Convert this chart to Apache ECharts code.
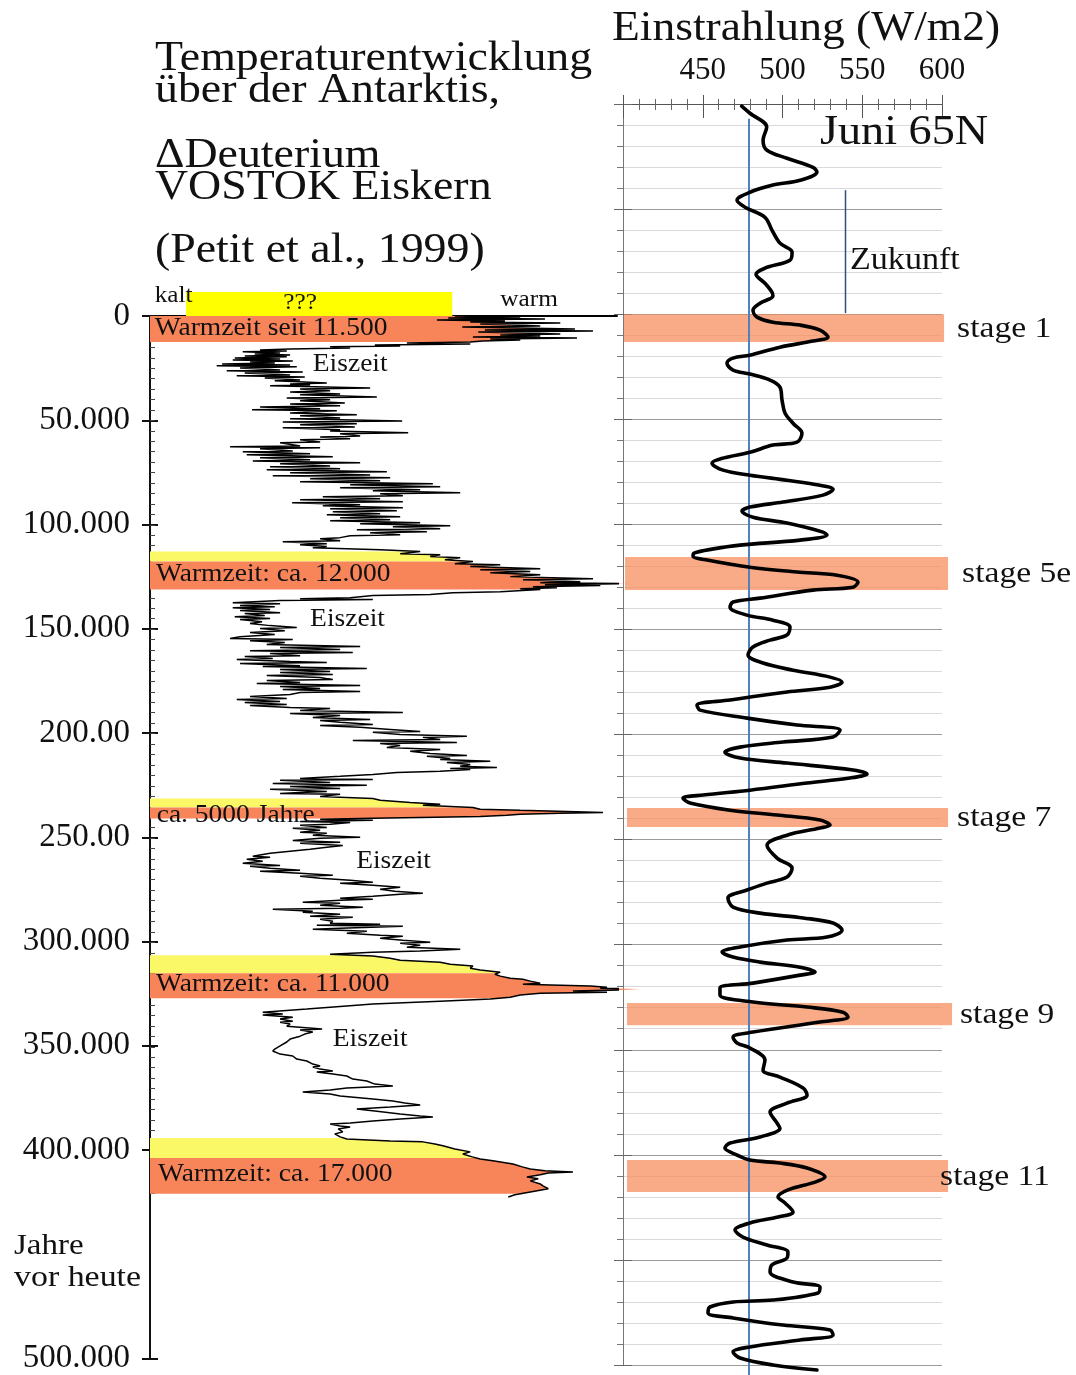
<!DOCTYPE html>
<html>
<head>
<meta charset="utf-8">
<script src="https://cdn.jsdelivr.net/npm/echarts@6/dist/echarts.min.js"></script>
<style>
  html, body { margin: 0; padding: 0; background: #fff; }
  #chart { width: 1076px; height: 1375px; }
</style>
</head>
<body>
<div id="chart"></div>
<script>
// ---------- Vostok deuterium record: age (kyr before present) and deltaD (per mil) ----------
const deutTime = [
  0.0,0.5,1.0,1.4,1.9,2.4,2.9,3.4,3.8,4.8,5.3,6.2,6.7,7.2,7.7,8.6,9.1,9.6,10.1,10.5,11.0,11.5,12.0,12.5,12.9,13.4,13.9,14.4,14.8,15.3,
  15.8,16.3,16.8,17.2,17.7,18.2,18.7,19.2,19.6,20.1,20.6,21.1,21.6,22.0,22.5,23.0,23.5,23.9,24.4,24.9,25.9,26.3,26.8,27.3,28.3,28.7,29.2,29.7,30.7,31.1,
  32.1,32.6,33.1,33.5,34.5,35.0,35.9,36.4,37.4,37.8,38.8,39.3,40.2,40.7,41.7,42.2,43.1,43.6,44.5,45.0,45.5,46.5,47.4,47.9,48.9,49.3,50.3,50.8,51.7,52.2,
  53.2,53.6,54.6,55.1,56.0,56.5,57.5,58.0,58.9,59.4,60.4,60.8,62.3,62.7,63.2,63.7,64.7,65.1,66.1,66.6,67.5,68.0,69.0,69.5,70.4,70.9,71.9,72.3,73.3,73.8,
  74.7,75.2,76.2,76.6,77.6,78.1,79.0,79.5,80.5,80.9,81.9,82.4,83.3,83.8,84.8,85.3,86.2,86.7,87.7,88.1,89.1,89.6,90.5,91.0,92.0,92.4,93.4,93.9,94.8,95.3,
  96.3,96.8,97.7,98.2,99.2,99.6,100.6,101.1,102.0,102.5,103.5,103.9,104.9,105.4,106.3,106.8,107.8,108.3,109.2,109.7,110.6,111.1,112.1,113.0,114.0,114.5,115.4,115.9,116.9,117.8,
  118.8,119.3,120.2,121.2,121.7,122.6,123.1,124.1,125.0,126.0,126.5,127.4,127.9,128.4,128.9,129.3,129.8,130.3,130.8,131.2,132.2,132.7,133.6,134.1,135.1,135.6,136.0,136.5,137.5,138.0,
  138.9,139.4,139.9,140.8,141.3,142.3,142.7,143.7,144.2,145.1,145.6,146.6,147.5,148.5,149.4,149.9,150.9,151.8,152.8,153.8,154.7,155.2,155.7,156.6,157.6,158.5,159.0,160.0,160.5,161.4,
  161.9,162.9,163.3,164.3,164.8,165.7,166.2,166.7,167.7,168.1,169.1,169.6,170.5,171.0,172.0,172.4,173.4,174.4,174.8,175.8,176.3,177.2,177.7,178.7,179.1,180.1,180.6,181.5,182.5,183.5,
  183.9,184.9,185.4,186.3,186.8,187.8,188.2,189.2,190.2,190.6,191.6,192.6,193.5,194.0,194.9,195.9,196.4,197.3,198.3,199.3,199.7,200.7,201.6,202.1,203.1,203.6,204.5,205.0,206.0,206.9,
  207.9,208.8,209.8,210.8,211.2,212.2,212.7,213.6,214.1,215.1,216.0,216.5,217.0,217.5,218.4,218.9,219.9,220.8,221.8,222.3,222.7,223.7,224.2,225.1,225.6,226.6,227.0,228.0,228.5,229.0,
  229.4,230.4,231.4,232.3,233.3,234.2,234.7,235.7,236.6,237.1,237.6,238.1,238.5,239.0,239.5,240.0,240.5,240.9,241.4,241.9,242.4,242.9,243.8,244.3,245.3,245.7,246.7,247.6,248.1,249.1,
  250.0,250.5,251.5,252.4,252.9,253.9,254.8,255.8,256.7,257.7,259.1,259.6,260.6,261.5,262.5,263.5,263.9,264.9,265.8,266.3,267.3,268.2,268.7,269.7,270.6,271.6,272.1,273.0,274.0,274.9,
  275.9,276.9,277.3,278.3,279.3,279.7,280.2,281.2,281.7,282.6,283.6,284.0,284.5,285.5,286.0,286.9,287.9,288.4,289.3,290.3,291.2,291.7,292.2,292.7,293.6,294.1,295.1,296.0,297.0,297.5,
  298.4,299.4,300.3,300.8,301.8,302.7,303.7,304.6,305.1,306.1,307.0,308.0,309.0,309.9,310.9,311.8,312.8,313.7,314.7,315.7,316.6,317.6,318.1,319.0,320.0,320.5,321.0,321.4,321.9,322.4,
  322.8,323.3,323.8,324.3,324.8,325.7,326.7,327.6,328.6,330.0,331.5,332.4,333.9,334.8,335.3,336.3,337.2,338.2,338.7,339.6,340.6,342.0,342.5,343.4,344.4,345.4,346.8,348.2,350.1,351.6,
  352.5,354.0,354.9,356.4,357.3,358.8,359.7,360.2,361.2,362.1,362.6,363.6,364.5,366.0,366.9,368.4,369.3,370.3,371.2,372.2,373.1,374.1,375.5,376.5,377.5,378.4,379.4,380.3,381.3,382.7,
  383.7,384.2,385.1,386.1,387.0,387.5,388.5,389.0,389.9,391.3,392.3,393.7,394.7,395.7,396.1,397.1,398.0,399.5,400.9,401.9,403.3,404.3,405.2,406.7,408.1,409.1,410.0,410.5,411.0,411.9,
  412.9,413.8,414.8,416.3,417.2,418.6,420.1,421.5,422.5
];
const deutValue = [
  -454.3,-444.5,-455.3,-440.8,-457.0,-446.8,-452.0,-438.5,-450.5,-441.5,-453.2,-436.3,-449.8,-433.6,-450.8,-438.5,-447.5,-441.5,-451.6,-436.0,-449.0,-444.5,-450.1,-452.0,-461.5,-452.0,-466.3,-462.5,-473.0,-470.0,
  -479.0,-483.5,-479.5,-486.1,-480.5,-484.3,-479.0,-485.8,-479.5,-487.3,-480.5,-487.6,-478.6,-485.0,-481.3,-489.2,-479.0,-490.0,-478.0,-486.5,-480.5,-488.5,-477.1,-485.8,-479.0,-487.0,-476.8,-482.8,-477.5,-481.3,
  -473.5,-479.0,-476.0,-482.0,-467.0,-477.5,-473.0,-479.0,-471.5,-477.5,-466.0,-479.5,-473.0,-477.5,-470.8,-479.0,-471.5,-483.5,-474.5,-484.7,-472.0,-479.0,-469.0,-477.5,-471.5,-479.0,-462.2,-480.1,-469.0,-477.5,
  -469.3,-480.1,-471.5,-473.0,-461.3,-471.5,-468.5,-474.5,-470.0,-477.5,-474.5,-480.5,-477.5,-488.0,-474.5,-483.5,-478.6,-486.1,-476.0,-485.5,-472.6,-483.5,-476.0,-484.6,-468.5,-480.5,-473.0,-482.0,-471.5,-482.5,
  -464.5,-479.0,-467.0,-481.6,-464.0,-476.0,-465.5,-477.5,-457.6,-470.0,-456.5,-471.5,-459.5,-466.6,-453.5,-465.5,-462.1,-474.1,-465.5,-477.5,-462.1,-478.7,-468.5,-474.1,-462.1,-473.0,-463.0,-472.6,-465.5,-473.5,
  -462.5,-471.5,-464.0,-473.0,-459.5,-468.5,-455.0,-463.6,-456.5,-469.0,-458.5,-467.0,-462.5,-470.0,-471.5,-474.5,-471.5,-480.1,-473.5,-477.5,-473.5,-475.6,-465.5,-459.5,-462.5,-456.5,-458.0,-453.5,-455.8,-451.6,
  -454.3,-447.5,-452.0,-441.5,-450.5,-443.0,-449.0,-441.5,-446.0,-433.6,-444.1,-435.5,-441.5,-428.0,-440.8,-432.5,-442.6,-439.0,-444.5,-441.5,-447.5,-454.6,-458.0,-466.6,-470.0,-477.5,-466.6,-480.5,-487.6,-480.5,
  -486.5,-481.3,-487.6,-482.0,-486.5,-480.5,-485.8,-482.8,-487.3,-482.0,-486.5,-483.2,-485.0,-482.0,-478.0,-483.5,-479.8,-485.0,-481.3,-486.5,-488.0,-478.6,-485.0,-479.8,-482.5,-468.5,-480.5,-471.5,-485.0,-469.6,
  -482.0,-477.5,-485.8,-481.6,-487.0,-479.0,-473.5,-486.5,-477.5,-483.1,-467.5,-480.5,-473.0,-480.5,-472.6,-482.5,-474.5,-472.6,-482.5,-477.5,-484.0,-468.5,-480.5,-474.5,-480.1,-468.5,-477.5,-479.0,-485.0,-479.5,
  -487.0,-480.5,-485.8,-479.5,-485.0,-479.0,-473.0,-477.5,-462.1,-479.0,-471.5,-475.6,-467.0,-474.5,-471.5,-466.6,-474.5,-468.5,-464.0,-459.5,-466.6,-462.5,-452.5,-459.1,-456.5,-469.6,-454.0,-465.5,-462.5,-464.5,
  -456.5,-461.0,-458.0,-452.5,-458.5,-455.0,-456.5,-449.0,-455.5,-452.0,-453.5,-448.0,-455.0,-452.0,-456.5,-463.0,-466.6,-471.5,-477.5,-466.6,-480.5,-473.0,-481.6,-467.5,-479.0,-471.5,-482.0,-473.5,-477.5,-480.5,
  -471.5,-474.5,-466.6,-465.5,-461.0,-456.5,-459.1,-451.6,-450.5,-444.5,-437.5,-432.1,-438.5,-444.5,-446.5,-450.5,-459.5,-466.6,-474.5,-466.6,-477.5,-470.0,-473.0,-477.5,-473.5,-478.6,-474.5,-477.5,-473.5,-475.6,
  -468.5,-474.5,-478.6,-471.5,-477.5,-471.1,-473.5,-476.0,-479.0,-482.0,-484.6,-482.0,-485.5,-483.1,-486.1,-480.5,-485.0,-482.0,-477.5,-483.5,-477.5,-472.6,-477.5,-474.5,-470.0,-466.6,-471.5,-466.6,-462.5,-465.5,
  -463.3,-459.1,-462.5,-466.6,-471.5,-466.6,-471.5,-477.1,-471.5,-474.5,-468.1,-471.5,-481.6,-475.6,-477.1,-471.5,-476.0,-469.6,-474.5,-472.6,-473.0,-465.5,-475.0,-462.1,-471.5,-475.6,-467.5,-470.5,-465.5,-462.1,
  -465.5,-462.1,-458.0,-462.5,-459.5,-461.5,-453.5,-459.5,-466.6,-473.0,-466.6,-464.0,-462.5,-456.5,-455.0,-451.6,-452.0,-450.5,-447.5,-448.3,-447.5,-446.0,-444.1,-443.0,-441.5,-444.1,-438.5,-434.0,-431.5,-432.5,
  -426.5,-429.5,-436.6,-431.5,-441.5,-444.5,-446.0,-449.0,-456.5,-466.6,-473.0,-476.5,-483.1,-480.1,-483.1,-478.6,-480.5,-478.6,-480.5,-479.0,-479.5,-474.2,-477.5,-475.6,-476.8,-477.5,-479.0,-479.5,-480.5,-481.3,
  -481.6,-480.5,-478.6,-478.0,-476.5,-475.6,-474.5,-475.6,-474.5,-472.6,-475.0,-472.6,-470.5,-469.6,-467.5,-466.3,-463.6,-470.5,-473.0,-477.1,-473.0,-471.5,-466.6,-463.6,-461.8,-459.5,-464.0,-469.0,-466.3,-462.5,
  -459.5,-457.6,-462.5,-466.6,-470.0,-473.0,-471.5,-470.0,-471.8,-471.1,-472.3,-471.5,-470.5,-464.0,-459.1,-457.3,-456.1,-454.3,-452.0,-453.1,-451.7,-450.5,-448.6,-445.6,-444.2,-443.0,-440.8,-436.6,-440.3,-441.5,
  -443.5,-441.8,-443.0,-441.5,-441.1,-440.3,-443.0,-445.3,-446.3
];

// Warm periods (orange) and the warming phase leading into them (yellow), kyr BP
const fillFrom = [0, 113.0, 117.8, 231.4, 235.7, 306.6, 315.2, 394.2, 403.8];
const fillTo   = [12.45, 117.8, 131.2, 235.7, 241.0, 315.2, 327.2, 403.8, 421.0];
const fillKind = ['warm', 'rise', 'warm', 'rise', 'warm', 'rise', 'warm', 'rise', 'warm'];

// Open question above the present: "???" box (deltaD span and kyr span)
const futureBoxValue = [-494.6, -454.7];
const futureBoxTime  = [-11.5, 0];

// Annotations inside the deuterium panel
const noteLabels = ['kalt', '???', 'warm', 'Warmzeit seit 11.500', 'Eiszeit', 'Warmzeit: ca. 12.000', 'Eiszeit',
                    'ca. 5000 Jahre', 'Eiszeit', 'Warmzeit: ca. 11.000', 'Eiszeit', 'Warmzeit: ca. 17.000'];
const noteTime   = [-9.6, -6.2, -7.9, 5.9, 23.4, 123.9, 145.5, 239.3, 261.4, 320.8, 347.2, 411.8];
const noteValue  = [-499.3, -477.5, -447.5, -499.3, -475.6, -499.1, -476.0, -499.0, -469.1, -499.1, -472.6, -498.8];

// Age axis tick labels (years before present)
const ageTickValues = [0, 50, 100, 150, 200, 250, 300, 350, 400, 500];
const ageTickLabels = ['0', '50.000', '100.000', '150.000', '200.00', '250.00', '300.000', '350.000', '400.000', '500.000'];

// ---------- June insolation at 65N (W/m2) vs. age (kyr, negative = future) ----------
const insolTime = [
  -99.0,-95.6,-89.0,-82.8,-78.0,-74.2,-69.9,-67.6,-63.7,-61.4,-58.0,-54.2,-50.9,-46.1,-40.0,-33.8,-29.5,-25.7,-21.9,-19.0,
  -14.7,-10.5,-8.6,-5.2,-1.9,1.4,3.8,5.2,7.6,10.9,12.8,15.7,19.5,20.9,23.3,26.6,28.5,31.4,34.7,40.9,
  47.1,51.9,56.6,60.9,62.3,65.7,68.5,70.9,74.2,76.6,79.0,81.4,83.3,86.1,89.4,91.8,93.7,96.6,99.4,103.7,
  105.1,107.5,109.9,111.8,113.7,115.1,117.0,120.4,122.7,124.2,127.5,129.9,131.3,135.1,137.0,139.4,143.2,145.6,148.9,152.7,
  155.1,158.4,162.2,166.0,169.4,172.7,175.1,177.5,179.8,183.6,186.0,188.4,192.2,195.5,197.9,201.2,203.6,206.0,208.4,211.2,
  213.6,216.9,218.8,220.7,223.1,226.5,228.8,230.3,232.6,236.0,238.3,240.7,243.1,244.5,247.9,252.7,258.8,263.6,267.8,270.7,
  274.0,277.8,282.1,285.0,287.3,289.7,293.1,296.4,297.8,301.1,303.5,305.9,308.3,310.7,313.0,314.5,318.3,320.6,324.0,327.3,
  329.7,332.1,334.4,336.8,341.6,344.0,346.8,349.2,354.9,359.7,363.0,368.2,371.6,375.4,379.6,384.9,387.3,391.5,394.4,396.8,
  400.1,402.5,403.9,406.3,410.6,413.0,416.7,420.1,422.9,427.2,429.6,432.4,435.8,439.1,442.9,446.2,449.1,452.4,455.8,460.5,
  462.9,465.7,469.1,470.0,472.4,475.3,477.6,481.0,483.3,485.7,488.1,491.4,493.8,496.7,500.0,502.4
];
const insolValue = [
  474.4,479.6,490.1,487.8,490.3,502.8,519.1,521.6,511.0,494.0,479.6,471.5,476.5,489.0,493.4,498.4,506.0,504.7,489.0,483.4,
  489.0,493.4,494.0,485.9,481.5,484.0,494.0,511.0,523.5,528.5,519.1,498.4,479.6,469.0,465.2,469.0,479.6,492.2,498.4,499.7,
  501.6,506.6,512.2,509.1,494.0,479.6,462.7,455.8,462.7,479.6,502.8,523.5,531.7,525.4,500.3,479.6,474.6,481.5,502.8,525.4,
  527.9,511.0,473.4,455.8,444.5,443.9,452.7,479.6,509.1,534.2,547.3,544.2,519.1,485.9,469.0,467.1,477.7,494.0,504.7,502.8,
  492.2,481.5,478.4,487.8,506.6,529.8,537.3,529.8,502.8,467.1,446.4,448.3,477.7,509.1,536.1,531.7,500.3,473.4,463.9,473.4,
  502.8,544.2,553.0,542.3,515.4,479.6,450.2,437.6,442.0,467.1,496.6,523.5,529.8,523.5,502.8,490.3,496.6,506.0,502.8,490.3,
  477.7,465.8,469.0,485.9,512.9,531.7,537.3,527.9,502.8,473.4,462.1,469.0,485.9,511.0,520.4,511.0,481.5,460.8,460.8,481.5,
  515.4,537.9,541.1,523.5,481.5,469.0,471.5,479.6,489.0,487.8,498.4,512.9,515.4,502.8,492.2,496.6,498.4,485.9,467.1,463.9,
  471.5,479.6,498.4,515.4,526.6,520.4,503.4,497.2,501.6,506.6,497.2,479.6,470.2,475.2,490.3,503.4,502.8,493.4,492.2,506.6,
  523.5,522.3,494.0,469.0,454.5,453.3,469.0,500.3,529.8,531.7,511.0,479.6,469.0,473.4,494.0,521.6
];
const insolTickLabels = ['450', '500', '550', '600'];
const insolTickValues = [450, 500, 550, 600];

// Reference level and the "future" marker
const insolReference = 479;
const insolReferenceSpan = [-93, 505];
const futureMarkerValue = 539.5;
const futureMarkerSpan = [-59, -0.5];

// Marine isotope stages highlighted in the insolation panel (kyr BP)
const stageNames = ['stage 1', 'stage 5e', 'stage 7', 'stage 9', 'stage 11'];
const stageFrom  = [0, 115.6, 235.0, 327.8, 402.5];
const stageTo    = [13.3, 131.3, 244.0, 338.3, 417.7];

// ---------- styling ----------
const SERIF = '"Liberation Serif", "Times New Roman", serif';
const D_MIN = -500, D_MAX = -430;
const ORANGE = '#f8845a';
const YELLOW = '#fbf867';
const BAND = 'rgba(246,137,88,0.72)';
const TEXT_STRETCH = 1.1;   // the serif lettering is set slightly wide
const bandLeft  = [400.6, 401.3, 402.5, 402.5, 402.5];
const bandRight = [601.3, 603.8, 603.8, 606.3, 603.8];
const bandLabelGap = [13, 14, 9, 8, -8];

function traceAt(t) {
  if (t <= deutTime[0]) return deutValue[0];
  for (let i = 1; i < deutTime.length; i++) {
    if (deutTime[i] >= t) {
      const t0 = deutTime[i - 1], t1 = deutTime[i];
      const f = t1 === t0 ? 0 : (t - t0) / (t1 - t0);
      return deutValue[i - 1] + f * (deutValue[i] - deutValue[i - 1]);
    }
  }
  return deutValue[deutValue.length - 1];
}

function textEl(x, y, text, size, align, stretch) {
  return {
    type: 'text', x: x, y: y, silent: true,
    scaleX: stretch || TEXT_STRETCH, scaleY: 1,
    style: {
      text: text, font: size + 'px ' + SERIF, fill: '#111',
      align: align || 'left', verticalAlign: 'middle',
      textAlign: align || 'left', textVerticalAlign: 'middle'
    }
  };
}

const chart = echarts.init(document.getElementById('chart'), null, { renderer: 'canvas' });

const option = {
  animation: false,
  backgroundColor: '#ffffff',
  grid: [
    { left: 150, top: 316, width: 467, height: 1044 },   // deuterium panel
    { left: 150, top: 316, width: 467, height: 876.9 },  // fine age ticks down to 420 kyr
    { left: 623, top: 104, width: 319, height: 1261 }    // insolation panel
  ],
  xAxis: [
    { gridIndex: 0, type: 'value', position: 'top', min: D_MIN, max: D_MAX,
      axisLine: { show: true, onZero: false, lineStyle: { color: '#000', width: 2 } },
      axisTick: { show: false }, axisLabel: { show: false }, splitLine: { show: false } },
    { gridIndex: 1, type: 'value', min: D_MIN, max: D_MAX, show: false },
    { gridIndex: 2, type: 'value', position: 'top', min: 400, max: 600, interval: 50,
      axisLine: { show: true, onZero: false, lineStyle: { color: '#555', width: 1 } },
      axisTick: { show: true, length: 9, lineStyle: { color: '#555' } },
      minorTick: { show: true, splitNumber: 5, length: 5, lineStyle: { color: '#666' } },
      axisLabel: { show: true, margin: 18, customValues: insolTickValues,
        formatter: v => insolTickLabels[insolTickValues.indexOf(v)] || '',
        fontFamily: SERIF, fontSize: 31, color: '#111' },
      splitLine: { show: false } },
    { gridIndex: 2, type: 'value', position: 'top', min: 400, max: 600, interval: 50,
      axisLine: { show: false, onZero: false },
      axisTick: { show: true, inside: true, length: 14, lineStyle: { color: '#555' } },
      minorTick: { show: true, splitNumber: 5, length: 6, lineStyle: { color: '#666' } },
      axisLabel: { show: false }, splitLine: { show: false } }
  ],
  yAxis: [
    { gridIndex: 0, type: 'value', inverse: true, position: 'left', min: 0, max: 500, interval: 50,
      axisLine: { show: true, onZero: false, lineStyle: { color: '#111', width: 2 } },
      axisTick: { show: true, length: 8, customValues: ageTickValues, lineStyle: { color: '#111', width: 2 } },
      axisLabel: { show: true, margin: 20, customValues: ageTickValues,
        formatter: v => ageTickLabels[ageTickValues.indexOf(v)],
        fontFamily: SERIF, fontSize: 33, color: '#111' },
      splitLine: { show: false } },
    { gridIndex: 0, type: 'value', inverse: true, position: 'left', min: 0, max: 500, interval: 50,
      axisLine: { show: false, onZero: false },
      axisTick: { show: true, inside: true, length: 8, customValues: ageTickValues, lineStyle: { color: '#111', width: 2 } },
      axisLabel: { show: false }, splitLine: { show: false } },
    { gridIndex: 1, type: 'value', inverse: true, position: 'left', min: 0, max: 420, interval: 10,
      axisLine: { show: false, onZero: false },
      axisTick: { show: true, inside: true, length: 5, lineStyle: { color: '#444', width: 1 } },
      minorTick: { show: true, splitNumber: 2, length: 5, lineStyle: { color: '#444', width: 1 } },
      axisLabel: { show: false }, splitLine: { show: false } },
    { gridIndex: 2, type: 'value', inverse: true, position: 'left', min: -100, max: 500, interval: 50,
      axisLine: { show: true, onZero: false, lineStyle: { color: '#777', width: 1 } },
      axisTick: { show: true, length: 9, lineStyle: { color: '#666' } },
      minorTick: { show: true, splitNumber: 5, length: 6, lineStyle: { color: '#777' } },
      axisLabel: { show: false },
      splitLine: { show: true, lineStyle: { color: '#9b9b9b', width: 1 } },
      minorSplitLine: { show: true, lineStyle: { color: '#dadada', width: 1 } } },
    { gridIndex: 2, type: 'value', inverse: true, position: 'left', min: -100, max: 500, interval: 50,
      axisLine: { show: false, onZero: false },
      axisTick: { show: true, inside: true, length: 9, lineStyle: { color: '#666' } },
      axisLabel: { show: false }, splitLine: { show: false } }
  ],
  graphic: [
    textEl(155, 59, 'Temperaturentwicklung', 43, 'left', 1.066),
    textEl(155, 91, 'über der Antarktis,', 43, 'left', 1.066),
    textEl(155, 156, 'ΔDeuterium', 43, 'left', 1.066),
    textEl(155, 188, 'VOSTOK Eiskern', 43, 'left', 1.066),
    textEl(155, 251, '(Petit et al., 1999)', 43, 'left', 1.066),
    textEl(612, 29, 'Einstrahlung (W/m2)', 42, 'left', 1.084),
    textEl(14, 1246, 'Jahre', 30),
    textEl(14, 1278, 'vor heute', 30, 'left', 1.13)
  ],
  series: [
    // warm periods and warming phases, filled between the age axis and the deuterium curve
    {
      type: 'custom', name: 'Warmzeiten', xAxisIndex: 0, yAxisIndex: 0, silent: true, z: 1,
      data: fillFrom.map((t, i) => [D_MIN, t, i]),
      renderItem: function (params, api) {
        const i = params.dataIndex;
        const from = fillFrom[i], to = fillTo[i];
        const pts = [api.coord([D_MIN, from]), api.coord([traceAt(from), from])];
        for (let k = 0; k < deutTime.length; k++) {
          if (deutTime[k] > from && deutTime[k] < to) pts.push(api.coord([deutValue[k], deutTime[k]]));
        }
        pts.push(api.coord([traceAt(to), to]));
        pts.push(api.coord([D_MIN, to]));
        return { type: 'polygon', shape: { points: pts },
                 style: { fill: fillKind[i] === 'warm' ? ORANGE : YELLOW } };
      }
    },
    // "???" box above the present
    {
      type: 'custom', name: 'Zukunft ???', xAxisIndex: 0, yAxisIndex: 0, silent: true, z: 1,
      data: [[futureBoxValue[0], futureBoxTime[0]]],
      renderItem: function (params, api) {
        const a = api.coord([futureBoxValue[0], futureBoxTime[0]]);
        const b = api.coord([futureBoxValue[1], futureBoxTime[1]]);
        return { type: 'rect', shape: { x: a[0], y: a[1], width: b[0] - a[0], height: b[1] - a[1] },
                 style: { fill: '#ffff00' } };
      }
    },
    // deuterium record
    {
      type: 'line', name: 'ΔDeuterium', xAxisIndex: 0, yAxisIndex: 0, z: 3,
      data: deutTime.map((t, i) => [deutValue[i], t]),
      symbol: 'none', showSymbol: false, clip: false,
      lineStyle: { color: '#000', width: 1.5 }
    },
    // text annotations in the deuterium panel
    {
      type: 'custom', name: 'Beschriftung', xAxisIndex: 0, yAxisIndex: 0, silent: true, z: 4,
      data: noteTime.map((t, i) => [noteValue[i], t]),
      renderItem: function (params, api) {
        const i = params.dataIndex;
        const p = api.coord([noteValue[i], noteTime[i]]);
        const size = i < 3 ? 23 : 25;
        return textEl(p[0], p[1], noteLabels[i], size, noteLabels[i] === '???' ? 'center' : 'left');
      }
    },
    // isotope stage bands in the insolation panel
    {
      type: 'custom', name: 'Stages', xAxisIndex: 2, yAxisIndex: 3, silent: true, z: 2,
      data: stageFrom.map((t, i) => [bandLeft[i], t, i]),
      renderItem: function (params, api) {
        const i = params.dataIndex;
        const a = api.coord([bandLeft[i], stageFrom[i]]);
        const b = api.coord([bandRight[i], stageTo[i]]);
        return {
          type: 'group',
          children: [
            { type: 'rect', shape: { x: a[0], y: a[1], width: b[0] - a[0], height: b[1] - a[1] },
              style: { fill: BAND } },
            textEl(b[0] + bandLabelGap[i], (a[1] + b[1]) / 2 + 1, stageNames[i], 30, 'left', 1.12)
          ]
        };
      }
    },
    // reference level
    {
      type: 'line', name: 'Referenz', xAxisIndex: 2, yAxisIndex: 3, z: 3,
      data: [[insolReference, insolReferenceSpan[0]], [insolReference, insolReferenceSpan[1]]],
      symbol: 'none', clip: false, lineStyle: { color: '#4f81bd', width: 2 }
    },
    // future marker
    {
      type: 'line', name: 'Zukunft', xAxisIndex: 2, yAxisIndex: 3, z: 3,
      data: [[futureMarkerValue, futureMarkerSpan[0]], [futureMarkerValue, futureMarkerSpan[1]]],
      symbol: 'none', clip: false, lineStyle: { color: '#2d4f86', width: 1.5 }
    },
    // June insolation 65N
    {
      type: 'line', name: 'Juni 65N', xAxisIndex: 2, yAxisIndex: 3, z: 5,
      data: insolTime.map((t, i) => [insolValue[i], t]),
      symbol: 'none', showSymbol: false, smooth: 0.35, clip: false,
      lineStyle: { color: '#000', width: 3.6, cap: 'round', join: 'round' }
    },
    // labels in the insolation panel
    {
      type: 'custom', name: 'Einstrahlung Beschriftung', xAxisIndex: 2, yAxisIndex: 3, silent: true, z: 6,
      data: [[523.5, -86.0], [542.3, -25.2]],
      renderItem: function (params, api) {
        const p = api.coord([api.value(0), api.value(1)]);
        return params.dataIndex === 0
          ? textEl(p[0], p[1], 'Juni 65N', 42, 'left', 1.1)
          : textEl(p[0], p[1], 'Zukunft', 31, 'left', 1.1);
      }
    }
  ]
};

chart.setOption(option);
</script>
</body>
</html>
